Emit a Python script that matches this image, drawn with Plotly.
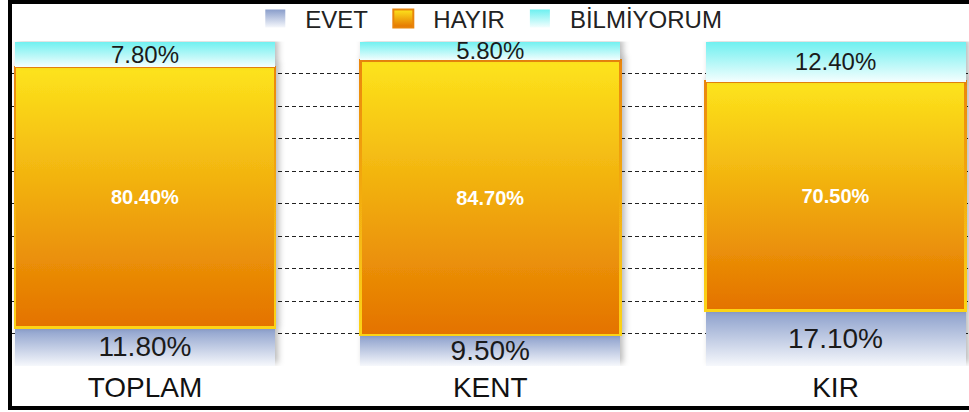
import plotly.graph_objects as go

categories = ["TOPLAM", "KENT", "KIR"]
evet = [11.8, 9.5, 17.1]
hayir = [80.4, 84.7, 70.5]
bilmiyorum = [7.8, 5.8, 12.4]
series_names = ["EVET", "HAYIR", "BİLMİYORUM"]

FONT = "Liberation Sans, Arial, sans-serif"

fig = go.Figure()
fig.add_trace(go.Bar(
    x=categories, y=evet, name=series_names[0],
    marker=dict(color="#c3cde6", line=dict(width=0)),
    texttemplate="%{y:.2f}%", textposition="inside", insidetextanchor="middle",
    textangle=0, constraintext="none",
    insidetextfont=dict(family=FONT, size=28, color="#1a1a1a"),
))
fig.add_trace(go.Bar(
    x=categories, y=hayir, name=series_names[1],
    marker=dict(color="#f2ab0e", line=dict(width=2.5, color="#ee900c")),
    texttemplate="<b>%{y:.2f}%</b>", textposition="inside", insidetextanchor="middle",
    textangle=0, constraintext="none",
    insidetextfont=dict(family=FONT, size=20, color="#ffffff"),
))
fig.add_trace(go.Bar(
    x=categories, y=bilmiyorum, name=series_names[2],
    marker=dict(color="#b5f7f7", line=dict(width=0)),
    texttemplate="%{y:.2f}%", textposition="inside", insidetextanchor="middle",
    textangle=0, constraintext="none",
    insidetextfont=dict(family=FONT, size=24, color="#1a1a1a"),
))

fig.update_layout(
    width=969, height=412,
    margin=dict(l=12, r=0, t=41, b=46),
    barmode="stack", bargap=0.247,
    plot_bgcolor="white", paper_bgcolor="white",
    font=dict(family=FONT, color="#1a1a1a"),
    showlegend=True,
    legend=dict(
        orientation="h", x=0.4956, xanchor="center", traceorder="normal",
        yref="container", y=(412 - 19) / 412, yanchor="middle",
        font=dict(family=FONT, size=24, color="#222222"),
        bgcolor="rgba(0,0,0,0)", itemwidth=50,
    ),
    xaxis=dict(
        type="category", range=[-0.3852, 2.3866],
        showgrid=False, zeroline=False, showline=False, ticks="",
        tickfont=dict(family=FONT, size=28, color="#111111"),
        ticklabelstandoff=2,
        fixedrange=True,
    ),
    yaxis=dict(
        range=[0, 100], dtick=10, tick0=0,
        showgrid=True, gridcolor="#222222", gridwidth=1, griddash="4px,3px",
        zeroline=False, showline=False, showticklabels=False, ticks="",
        fixedrange=True,
    ),
)

post = r"""
document.documentElement.style.margin = '0';
document.documentElement.style.overflow = 'hidden';
document.body.style.margin = '0';
document.body.style.padding = '0';
document.body.style.overflow = 'hidden';
var frameDiv = document.createElement('div');
frameDiv.style.cssText = 'position:absolute;left:7.5px;top:0;width:2000px;height:410px;' +
  'box-sizing:border-box;border-left:4px solid #000;border-top:4px solid #000;' +
  'border-bottom:4px solid #000;pointer-events:none;z-index:10;';
document.body.appendChild(frameDiv);
var gd = document.getElementById('{plot_id}');
var NS = 'http://www.w3.org/2000/svg';
var grads = {
  gEvet: [['0%','#8a9ecb'],['100%','#f6f8fc']],
  gHayir: [['0%','#fde41c'],['100%','#e47200']],
  gHayirS: [['0%','#ea860e'],['100%','#fcd414']],
  gBil: [['0%','#6ef0f0'],['100%','#f4fefe']]
};
function ensureDefs(){
  var svg = gd.querySelector('svg.main-svg');
  if(!svg) return;
  if(document.getElementById('gEvet')) return;
  var defs = document.createElementNS(NS,'defs');
  svg.insertBefore(defs, svg.firstChild);
  for (var id in grads){
    var lg = document.createElementNS(NS,'linearGradient');
    lg.setAttribute('id', id);
    lg.setAttribute('x1','0'); lg.setAttribute('y1','0');
    lg.setAttribute('x2','0'); lg.setAttribute('y2','1');
    grads[id].forEach(function(s){
      var st = document.createElementNS(NS,'stop');
      st.setAttribute('offset', s[0]); st.setAttribute('stop-color', s[1]);
      lg.appendChild(st);
    });
    defs.appendChild(lg);
  }
  var f = document.createElementNS(NS,'filter');
  f.setAttribute('id','barShadow');
  f.setAttribute('filterUnits','userSpaceOnUse');
  f.setAttribute('x','-100'); f.setAttribute('y','-100');
  f.setAttribute('width','1300'); f.setAttribute('height','700');
  var ds = document.createElementNS(NS,'feDropShadow');
  ds.setAttribute('dx','3'); ds.setAttribute('dy','-3');
  ds.setAttribute('stdDeviation','3');
  ds.setAttribute('flood-color','#000'); ds.setAttribute('flood-opacity','0.28');
  f.appendChild(ds);
  defs.appendChild(f);
}
function apply(){
  ensureDefs();
  var ids = ['gEvet','gHayir','gBil'];
  var tr = gd.querySelectorAll('.barlayer .trace');
  tr.forEach(function(t,i){
    t.querySelectorAll('path').forEach(function(p){
      p.style.fill = 'url(#' + ids[i] + ')';
      if(i === 1){ p.style.stroke = 'url(#gHayirS)'; }
      p.setAttribute('filter','url(#barShadow)');
    });
  });
  var lt = gd.querySelectorAll('.legend .traces');
  lt.forEach(function(t,i){
    t.querySelectorAll('.legendpoints path').forEach(function(p){
      p.setAttribute('d','M10,9H-10V-9H10Z');
      p.style.fill = 'url(#' + ids[i] + ')';
      if(i === 1){ p.style.stroke = '#e8850c'; p.style.strokeWidth = '2px'; }
    });
  });
}
apply();
gd.on('plotly_afterplot', apply);
"""

fig.write_html("out.html", post_script=post, config={"displayModeBar": False})
